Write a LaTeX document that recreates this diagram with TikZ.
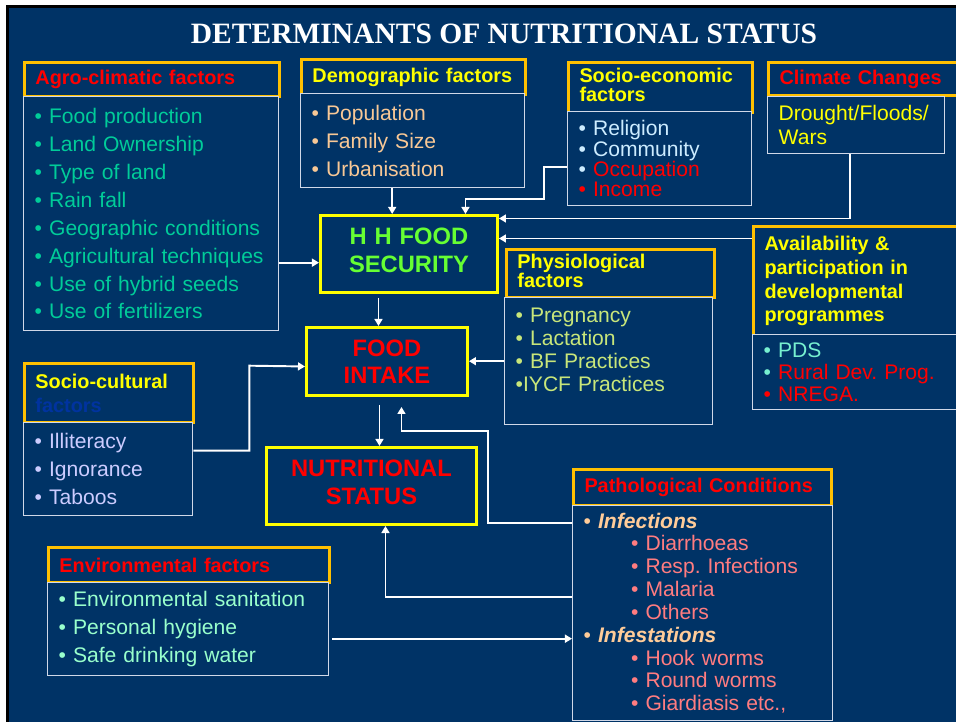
\documentclass[tikz,border=0pt]{standalone}
\usepackage{fontspec}
\setmainfont{Liberation Sans}
\newfontfamily\titlefont{Liberation Serif}
\usetikzlibrary{arrows.meta, calc, positioning}
\definecolor{navy}{HTML}{003366}
\definecolor{mygold}{HTML}{FFC000}
\definecolor{myyellow}{HTML}{FFFF00}
\definecolor{myred}{HTML}{FF0000}
\definecolor{mygreen}{HTML}{66FF33}
\definecolor{myteal}{HTML}{00CC99}
\definecolor{mytan}{HTML}{F8C896}
\definecolor{mylightblue}{HTML}{CCECFF}
\definecolor{mylime}{HTML}{C8E67A}
\definecolor{myaqua}{HTML}{77F0D0}
\definecolor{mylavender}{HTML}{CCCCFF}
\definecolor{mymint}{HTML}{99FFCC}
\definecolor{mypeach}{HTML}{FFCC99}
\definecolor{mysalmon}{HTML}{FF7C80}
\definecolor{mydarkblue}{HTML}{0033A0}
\definecolor{myframe}{HTML}{D0D8E8}
\newcommand{\itemfont}[1]{\fontsize{12}{#1}\selectfont}
\newcommand{\hdrfont}[1]{\bfseries\fontsize{11.3}{#1}\selectfont}
\frenchspacing
\tikzset{
	hdrbox/.style={
			draw=mygold,
			line width=1.7pt,
			fill=navy,
			anchor=north west,
			inner xsep=0.22cm,
			inner ysep=0pt,
			align=left,
			font=\hdrfont{10.8}
		},
	bodybox/.style={
			draw=myframe,
			line width=0.8pt,
			fill=navy,
			anchor=north west,
			inner xsep=0.22cm,
			inner ysep=0pt,
			align=left,
			font=\itemfont{15.9}
		},
	keybox/.style={
			draw=myyellow,
			line width=1.7pt,
			fill=navy,
			anchor=north west,
			inner xsep=0.22cm,
			inner ysep=0pt,
			align=center,
			text=myred,
			font=\bfseries\fontsize{13.5}{15.6}\selectfont
		},
	title/.style={
			text=white,
			font=\titlefont\bfseries\fontsize{16.8}{18}\selectfont
		},
	link/.style={
			draw=white,
			line width=1.1pt,
			-{Triangle[length=4pt, width=4.5pt]}
		}
}

\begin{document}
\begin{tikzpicture}[x=0.02cm, y=-0.02cm]
    \useasboundingbox (0,0) rectangle (956,722);
    \fill[white] (0,0) rectangle (956,722);
    \fill[black] (6,5) rectangle (956,722);
    \fill[navy] (9,8) rectangle (956,722);

    \node[title] (title) at (504,34) {DETERMINANTS OF NUTRITIONAL STATUS};

    % top row of factors
    \node[hdrbox, text width=4.66cm, minimum height=0.68cm, text=myred] (hdrAgro) at (23,61) {Agro-climatic factors};
    \node[bodybox, text width=4.66cm, minimum height=4.68cm, text=myteal] (bodyAgro) at (23,96) {\textbullet\ Food production\\ \textbullet\ Land Ownership\\ \textbullet\ Type of land\\ \textbullet\ Rain fall\\ \textbullet\ Geographic conditions\\ \textbullet\ Agricultural techniques\\ \textbullet\ Use of hybrid seeds\\ \textbullet\ Use of fertilizers};

    \node[hdrbox, text width=4.04cm, minimum height=0.70cm, text=myyellow] (hdrDemo) at (300,58) {Demographic factors};
    \node[bodybox, text width=4.04cm, minimum height=1.88cm, text=mytan] (bodyDemo) at (300,93) {\textbullet\ Population\\ \textbullet\ Family Size\\ \textbullet\ Urbanisation};

    \node[hdrbox, text width=3.24cm, minimum height=1.00cm, text=myyellow, text depth=14.2pt] (hdrSocEco) at (567,61) {\mbox{Socio-economic}\\ factors};
    \node[bodybox, text width=3.24cm, minimum height=1.88cm, font=\itemfont{11.6}] (bodySocEco) at (567,111) {\textcolor{mylightblue}{\textbullet\ Religion}\\ \textcolor{mylightblue}{\textbullet\ Community}\\ \textcolor{mylightblue}{\textbullet}\ \textcolor{myred}{Occupation}\\ \textcolor{myred}{\textbullet\ Income}};

    \node[hdrbox, text width=3.46cm, minimum height=0.66cm, text=myred] (hdrClim) at (767,61) {\mbox{Climate Changes}};
    \node[bodybox, text width=3.10cm, minimum height=1.14cm, text=myyellow, font=\itemfont{13.6}] (bodyClim) at (767,96) {Drought/Floods/\\ Wars};

    % central chain
    \node[keybox, text width=3.10cm, minimum height=1.54cm, text=mygreen, text depth=20pt] (hhfood) at (319,214) {H H FOOD\\ SECURITY};
    \node[keybox, text width=2.78cm, minimum height=1.36cm] (foodintake) at (305,326) {FOOD\\ INTAKE};
    \node[keybox, text width=3.76cm, minimum height=1.54cm, text depth=20pt] (nutstatus) at (265,446) {NUTRITIONAL\\ STATUS};

    % middle factors
    \node[hdrbox, text width=3.72cm, minimum height=0.96cm, text=myyellow, text depth=14.2pt] (hdrPhys) at (505,248) {Physiological\\ factors};
    \node[bodybox, text width=3.72cm, minimum height=2.54cm, text=mylime, font=\itemfont{13}] (bodyPhys) at (504,297) {\textbullet\ Pregnancy\\ \textbullet\ Lactation\\ \textbullet\ BF Practices\\ \textbullet IYCF Practices\\ \mbox{}};

    \node[hdrbox, text width=3.80cm, minimum height=2.18cm, text=myyellow, font=\hdrfont{13.6}] (hdrAvail) at (752,225) {Availability \&\\ participation in\\ developmental\\ programmes};
    \node[bodybox, text width=3.80cm, minimum height=1.50cm, font=\itemfont{12.5}] (bodyAvail) at (752,334) {\textcolor{myaqua}{\textbullet\ PDS}\\ \textcolor{myaqua}{\textbullet}\ \textcolor{myred}{Rural Dev. Prog.}\\ \textcolor{myred}{\textbullet\ NREGA.}};

    \node[hdrbox, text width=2.94cm, minimum height=1.18cm, text=myyellow, font=\hdrfont{13.6}] (hdrSocCul) at (23,362) {\mbox{Socio-cultural}\\ \textcolor{mydarkblue}{factors}};
    \node[bodybox, text width=2.94cm, minimum height=1.86cm, text=mylavender] (bodySocCul) at (23,422) {\textbullet\ Illiteracy\\ \textbullet\ Ignorance\\ \textbullet\ Taboos};

    % bottom factors
    \node[hdrbox, text width=4.72cm, minimum height=0.72cm, text=myred] (hdrPath) at (572,468) {Pathological Conditions};
    \node[bodybox, text width=4.76cm, minimum height=4.30cm, text=mysalmon, font=\itemfont{13}] (bodyPath) at (572,505) {\textcolor{mypeach}{\textbullet\ \textbf{\textit{Infections}}}\\ \hspace*{27pt}\textbullet\ Diarrhoeas\\ \hspace*{27pt}\textbullet\ Resp. Infections\\ \hspace*{27pt}\textbullet\ Malaria\\ \hspace*{27pt}\textbullet\ Others\\ \textcolor{mypeach}{\textbullet\ \textbf{\textit{Infestations}}}\\ \hspace*{27pt}\textbullet\ Hook worms\\ \hspace*{27pt}\textbullet\ Round worms\\ \hspace*{27pt}\textbullet\ Giardiasis etc.,};

    \node[hdrbox, text width=5.18cm, minimum height=0.70cm, text=myred] (hdrEnv) at (47,546) {Environmental factors};
    \node[bodybox, text width=5.18cm, minimum height=1.86cm, text=mymint] (bodyEnv) at (47,582) {\textbullet\ Environmental sanitation\\ \textbullet\ Personal hygiene\\ \textbullet\ Safe drinking water};

    % connectors
    \draw[link] ([xshift=-0.41cm]bodyDemo.south) -- ([xshift=-0.41cm]bodyDemo.south |- hhfood.north);
    \draw[link] ([yshift=-0.16cm]bodySocEco.west) -| ++(-23,32) -| ([xshift=1.13cm]hhfood.north);
    \draw[link] ([xshift=-0.13cm]bodyClim.south) |- ([yshift=0.71cm]hhfood.east);
    \draw[link] ([yshift=0.85cm]hdrAvail.west) -- ([yshift=0.85cm]hdrAvail.west -| hhfood.east);
    \draw[link] ([yshift=-0.98cm]bodyAgro.east) -- ([yshift=-0.98cm]bodyAgro.east -| hhfood.west);
    \draw[link] ([xshift=-0.61cm, yshift=-0.08cm]hhfood.south) -- ([xshift=-0.61cm]hhfood.south |- foodintake.north);
    \draw[link] ([yshift=0.37cm]bodySocCul.east) -| ++(56,-85) -- ([yshift=-0.1cm]foodintake.west);
    \draw[link] (bodyPhys.west) -- (bodyPhys.west -| foodintake.east);
    \draw[link] ([xshift=-0.15cm, yshift=-0.16cm]foodintake.south) -- ([xshift=-0.15cm]foodintake.south |- nutstatus.north);
    \draw[link] ([yshift=1.81cm]bodyPath.west) -| ++(-84,-92) -| ([xshift=0.29cm, yshift=-0.2cm]foodintake.south);
    \draw[link] ([yshift=0.33cm]bodyPath.west) -| ([xshift=0.28cm]nutstatus.south);
    \draw[link] ([xshift=0.06cm, yshift=-0.19cm]bodyEnv.east) -- ([yshift=-0.19cm]bodyEnv.east -| bodyPath.west);
\end{tikzpicture}
\end{document}
